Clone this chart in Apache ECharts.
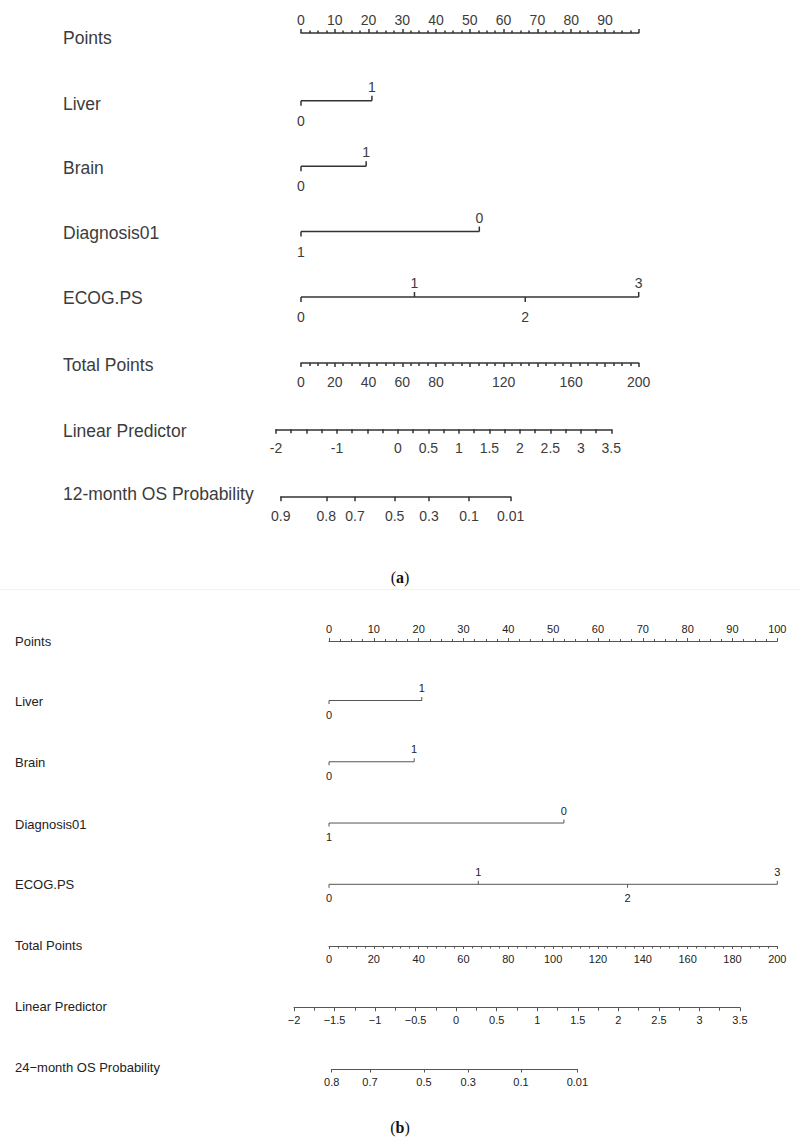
<!DOCTYPE html>
<html><head><meta charset="utf-8">
<script src="https://cdn.jsdelivr.net/npm/echarts@6/dist/echarts.min.js"></script>
<style>html,body{margin:0;padding:0;background:#fff}#c{width:800px;height:1144px}</style>
</head><body><div id="c"></div>
<script>
// ================= DATA =================
const rowNamesA = ['Points','Liver','Brain','Diagnosis01','ECOG.PS','Total Points','Linear Predictor','12-month OS Probability'];
const rowNamesB = ['Points','Liver','Brain','Diagnosis01','ECOG.PS','Total Points','Linear Predictor','24\u2212month OS Probability'];

const pointsLabelsA = [0,10,20,30,40,50,60,70,80,90];
const pointsLabelsB = [0,10,20,30,40,50,60,70,80,90,100];

// covariates: level labels and their points
const covLevels  = [['0','1'], ['0','1'], ['1','0'], ['0','1','2','3']];
const covPointsA = [[0,21.0], [0,19.3], [0,52.8], [0,33.6,66.4,100]];
const covPointsB = [[0,20.7], [0,19.0], [0,52.4], [0,33.3,66.6,100]];

const totalLabelsA = [0,20,40,60,80,120,160,200];
const totalLabelsB = [0,20,40,60,80,100,120,140,160,180,200];

const lpLabelsA = [-2,-1,0,0.5,1,1.5,2,2.5,3,3.5];
const lpLabelsB = [-2,-1.5,-1,-0.5,0,0.5,1,1.5,2,2.5,3,3.5];

// survival probability ticks and their linear-predictor values
const probLabelsA = [0.9,0.8,0.7,0.5,0.3,0.1,0.01];
const probLpA     = [-1.923,-1.175,-0.705,-0.054,0.509,1.165,1.849];
const probLabelsB = [0.8,0.7,0.5,0.3,0.1,0.01];
const probLpB     = [-1.535,-1.063,-0.397,0.149,0.799,1.494];

// ================= LAYOUT / STYLE =================
const SANS = '"Liberation Sans", Arial, Helvetica, sans-serif';
const panels = [
  {
    names: rowNamesA, pointsLabels: pointsLabelsA, covPoints: covPointsA,
    totalLabels: totalLabelsA, lpLabels: lpLabelsA, probLabels: probLabelsA, probLp: probLpA,
    nameX: 63, nameY: [38,104,168,233,298,365,431,494], nameSize: 17.5, tickSize: 14,
    textColor: '#3c3c3c', lineColor: '#333', lw: 1.5,
    pLeft: 301, pRight: 638.7, pointsY: 33, covTop: 100.7, covBottom: 297,
    totalY: 363, lpLeft: 276, lpRight: 611.3, lpY: 429.3, probY: 496.7,
    topMargin: 6, botMargin: 12, majorLen: 4, minorLen: 2.5, covTick: 5,
    covAbove: 14, covBelow: 20, totalMinor: 4, lpFmt: v => String(v)
  },
  {
    names: rowNamesB, pointsLabels: pointsLabelsB, covPoints: covPointsB,
    totalLabels: totalLabelsB, lpLabels: lpLabelsB, probLabels: probLabelsB, probLp: probLpB,
    nameX: 15, nameY: [641,701,762,824,884,945,1006,1067], nameSize: 13, tickSize: 11,
    textColor: '#222', lineColor: '#555', lw: 1,
    pLeft: 329, pRight: 777.3, pointsY: 641, covTop: 700.5, covBottom: 884.3,
    totalY: 946, lpLeft: 294, lpRight: 740, lpY: 1007.7, probY: 1069,
    topMargin: 7, botMargin: 7, majorLen: 3, minorLen: 2, covTick: 3.5,
    covAbove: 12.5, covBelow: 14, totalMinor: 5, lpFmt: v => String(v).replace('-', '\u2212')
  }
];

const grids = [], xAxes = [], yAxes = [], series = [], graphics = [];

function addAxis(gridBox, xAxisOpt) {
  const gi = grids.length;
  grids.push(Object.assign({show:false}, gridBox));
  xAxes.push(Object.assign({gridIndex: gi, type:'value', splitLine:{show:false}}, xAxisOpt));
  yAxes.push({gridIndex: gi, type:'value', show:false, min:0, max:1});
  return gi;
}

panels.forEach(P => {
  const lineStyle = {color: P.lineColor, width: P.lw};
  const lbl = (extra) => Object.assign({color: P.textColor, fontSize: P.tickSize, fontFamily: SANS}, extra);
  // Points axis (labels on top)
  addAxis({left: P.pLeft, width: P.pRight - P.pLeft, top: P.pointsY, height: 1}, {
    position:'top', min:0, max:100, interval:10,
    axisLine:{show:true, onZero:false, lineStyle},
    axisTick:{show:true, length:P.majorLen, lineStyle},
    minorTick:{show:true, splitNumber:4, length:P.minorLen, lineStyle},
    axisLabel: lbl({margin:P.topMargin, customValues: P.pointsLabels})
  });
  // Total Points
  addAxis({left: P.pLeft, width: P.pRight - P.pLeft, top: P.totalY - 1, height: 1}, {
    position:'bottom', min:0, max:200, interval:20,
    axisLine:{show:true, onZero:false, lineStyle},
    axisTick:{show:true, length:P.majorLen, lineStyle},
    minorTick:{show:true, splitNumber:P.totalMinor, length:P.minorLen + 0.5, lineStyle},
    axisLabel: lbl({margin:P.botMargin, customValues: P.totalLabels})
  });
  // Linear predictor
  const lpMin = P.lpLabels[0], lpMax = P.lpLabels[P.lpLabels.length-1];
  addAxis({left: P.lpLeft, width: P.lpRight - P.lpLeft, top: P.lpY - 1, height: 1}, {
    position:'bottom', min:lpMin, max:lpMax, interval:0.5,
    axisLine:{show:true, onZero:false, lineStyle},
    axisTick:{show:true, length:P.majorLen + 0.5, lineStyle},
    minorTick:{show:true, splitNumber:2, length:P.majorLen, lineStyle},
    axisLabel: lbl({margin:P.botMargin, customValues: P.lpLabels, formatter: P.lpFmt})
  });
  // Probability axis, placed on the linear-predictor scale
  const k = (P.lpRight - P.lpLeft) / (lpMax - lpMin);
  const pMin = P.probLp[0], pMax = P.probLp[P.probLp.length-1];
  addAxis({left: P.lpLeft + (pMin - lpMin)*k, width: (pMax - pMin)*k, top: P.probY - 1, height: 1}, {
    position:'bottom', min:pMin, max:pMax,
    axisLine:{show:true, onZero:false, lineStyle},
    axisTick:{show:true, length:P.majorLen + 0.5, lineStyle, customValues: P.probLp},
    axisLabel: lbl({margin:P.botMargin, customValues: P.probLp, showMinLabel:true, showMaxLabel:true,
      formatter: v => { let bi=0, bd=1e9; P.probLp.forEach((x,i)=>{const d=Math.abs(x-v); if(d<bd){bd=d;bi=i;}}); return String(P.probLabels[bi]); }})
  });
  // Covariate grid
  const gi = grids.length;
  grids.push({show:false, left:P.pLeft, width:P.pRight-P.pLeft, top:P.covTop, height:P.covBottom-P.covTop});
  xAxes.push({gridIndex:gi, type:'value', min:0, max:100, show:false});
  yAxes.push({gridIndex:gi, type:'value', min:0, max:3, inverse:true, show:false});
  series.push({
    type:'custom', xAxisIndex:gi, yAxisIndex:gi, silent:true,
    data: P.covPoints.map((pts,i)=>[pts[0], pts[pts.length-1], i]),
    renderItem: (params, api) => {
      const a = api.coord([api.value(0), api.value(2)]);
      const b = api.coord([api.value(1), api.value(2)]);
      return {type:'line', shape:{x1:a[0], y1:a[1], x2:b[0], y2:b[1]}, style:{stroke:P.lineColor, lineWidth:P.lw}};
    }
  });
  const tickData = [], tickText = [];
  P.covPoints.forEach((pts,i)=>pts.forEach((v,j)=>{ tickData.push([v, i, j%2===0 ? 1 : -1]); tickText.push(covLevels[i][j]); }));
  series.push({
    type:'custom', xAxisIndex:gi, yAxisIndex:gi, silent:true,
    data: tickData,
    renderItem: (params, api) => {
      const c = api.coord([api.value(0), api.value(1)]);
      const side = api.value(2); // 1 = below, -1 = above
      return {type:'group', children:[
        {type:'line', shape:{x1:c[0], y1:c[1], x2:c[0], y2:c[1] + side*P.covTick}, style:{stroke:P.lineColor, lineWidth:P.lw}},
        {type:'text', style:{text: tickText[params.dataIndex], x:c[0], y: c[1] + (side>0 ? P.covBelow : -P.covAbove),
          align:'center', verticalAlign:'middle', fill:P.textColor, fontSize:P.tickSize, fontFamily:SANS}}
      ]};
    }
  });
  // Row names
  P.names.forEach((n,i)=>graphics.push({type:'text', silent:true, style:{text:n, x:P.nameX, y:P.nameY[i],
    verticalAlign:'middle', fill:P.textColor, fontSize:P.nameSize, fontFamily:SANS}}));
});

// Captions
const SERIF = '"Liberation Serif", "DejaVu Serif", serif';
[['a',577],['b',1127]].forEach(([t,y])=>graphics.push({type:'text', silent:true, style:{
  text:'{p|(}{b|'+t+'}{p|)}', x:400, y:y, align:'center', verticalAlign:'middle',
  rich:{p:{fontSize:16, fontFamily:SERIF, fill:'#111'}, b:{fontSize:16, fontFamily:SERIF, fontWeight:'bold', fill:'#111'}}}}));
graphics.push({type:'rect', silent:true, shape:{x:0, y:589, width:800, height:1}, style:{fill:'#f2f2f2'}});

const chart = echarts.init(document.getElementById('c'), null, {renderer:'svg'});
chart.setOption({
  animation:false, backgroundColor:'#fff',
  grid: grids, xAxis: xAxes, yAxis: yAxes, series: series, graphic: graphics
});
</script></body></html>
